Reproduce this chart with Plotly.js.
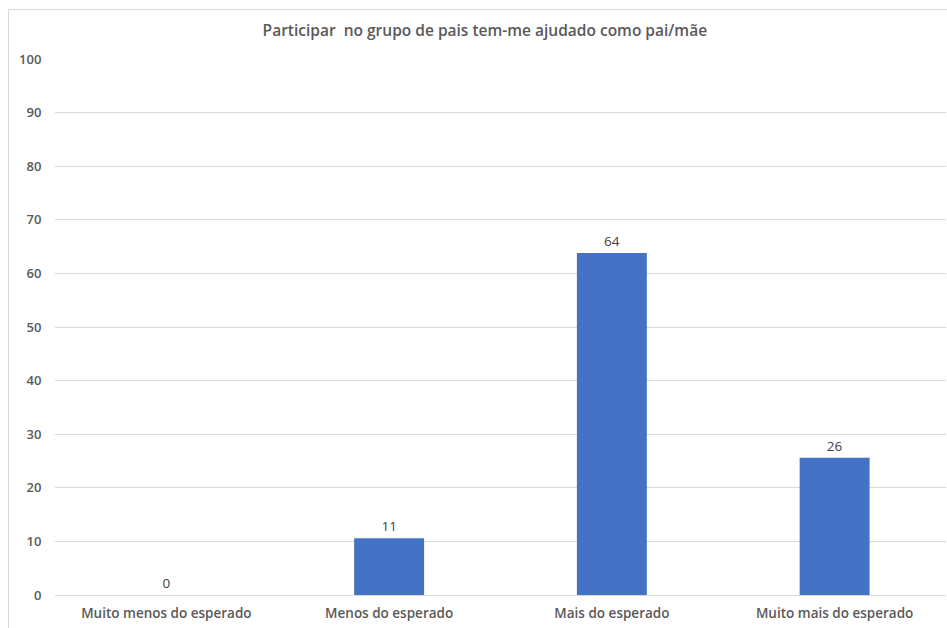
<!DOCTYPE html>
<html>
<head>
<meta charset="utf-8">
<script src="https://cdn.plot.ly/plotly-3.0.1.min.js"></script>
<style>
html,body{margin:0;padding:0;background:#fff;overflow:hidden;}
#chart{width:947px;height:628px;}
#frame{position:absolute;left:8px;top:9px;width:960px;height:700px;border:1px solid #d9d9d9;pointer-events:none;}
</style>
</head>
<body>
<div id="chart"></div>
<div id="frame"></div>
<script>
var categories = ["Muito menos do esperado", "Menos do esperado", "Mais do esperado", "Muito mais do esperado"];
var values = [0, 10.6, 63.8, 25.6];
var yTicks = [0, 10, 20, 30, 40, 50, 60, 70, 80, 90, 100];
var chartTitle = "Participar  no grupo de pais tem-me ajudado como pai/mãe";

var fontFam = "Open Sans, Noto Sans, sans-serif";

var trace = {
  type: "bar",
  x: categories,
  y: values,
  marker: {color: "#4472C4", line: {width: 0}},
  text: values.map(function(v){return Math.round(v).toString();}),
  textposition: "outside",
  cliponaxis: false,
  textfont: {family: fontFam, size: 13.5, color: "#404040"},
  hoverinfo: "x+y"
};

var layout = {
  width: 947,
  height: 628,
  paper_bgcolor: "#ffffff",
  plot_bgcolor: "#ffffff",
  margin: {l: 55, r: 1, t: 59, b: 33},
  bargap: 0.686,
  showlegend: false,
  title: {
    text: chartTitle,
    font: {family: fontFam, size: 15.5, color: "#595959", weight: 600},
    xref: "container", x: 0.512, xanchor: "center",
    yref: "container", y: 0.951, yanchor: "middle"
  },
  xaxis: {
    type: "category",
    showgrid: false,
    showline: false,
    zeroline: false,
    ticks: "",
    ticklabelstandoff: 8,
    tickfont: {family: fontFam, size: 13.5, color: "#595959", weight: 600}
  },
  yaxis: {
    range: [0, 100],
    tickvals: yTicks,
    ticktext: yTicks.map(String),
    showgrid: true,
    gridcolor: "#d9d9d9",
    gridwidth: 1,
    zeroline: true,
    zerolinecolor: "#d9d9d9",
    zerolinewidth: 1,
    showline: false,
    ticks: "outside",
    ticklen: 10,
    tickcolor: "rgba(0,0,0,0)",
    tickfont: {family: fontFam, size: 13, color: "#595959", weight: 600}
  }
};

Plotly.newPlot("chart", [trace], layout, {displayModeBar: false, staticPlot: true});
</script>
</body>
</html>
